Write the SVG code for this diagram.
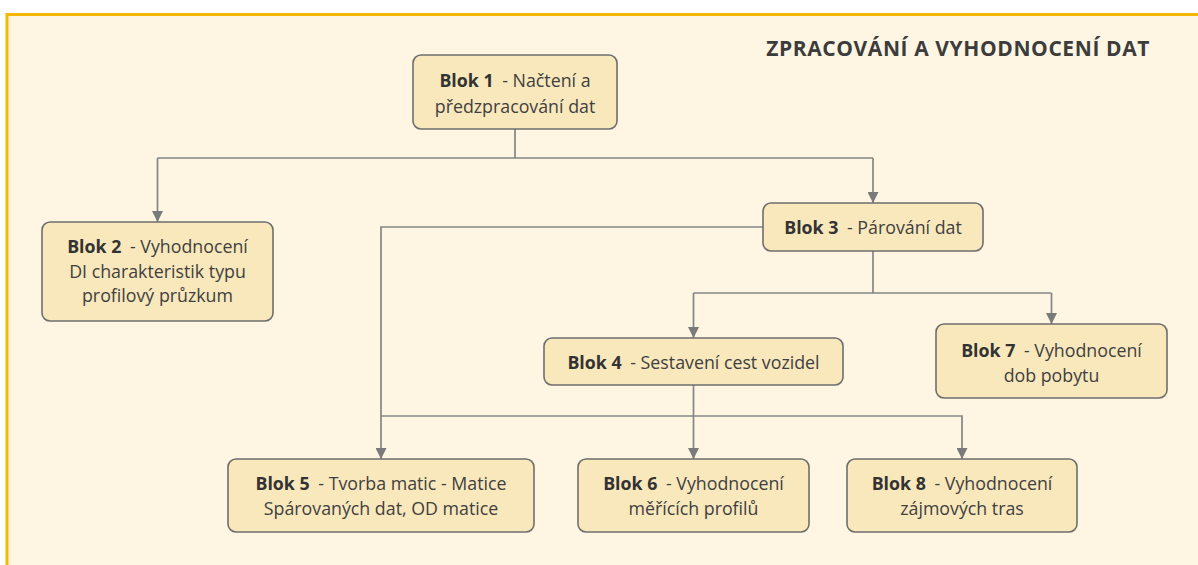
<svg xmlns="http://www.w3.org/2000/svg" width="1198" height="565" viewBox="0 0 1198 565">
<defs>
<style>
.node rect{fill:#F9E8BC;stroke:#6E6E6E;stroke-width:1.6}
.node text{font-family:"Open Sans","Noto Sans","Liberation Sans",sans-serif;font-size:17.8px;fill:#404040;text-anchor:middle}
.b{font-weight:bold;fill:#333333}
.conn path{fill:none;stroke:#858585;stroke-width:1.7}
.title{font-family:"Open Sans","Noto Sans","Liberation Sans",sans-serif;font-size:21px;letter-spacing:0.6px;font-weight:bold;fill:#3C3C3C;text-anchor:end}
</style>
<marker id="ah" viewBox="0 0 10 10" refX="10" refY="5" markerWidth="11" markerHeight="11" markerUnits="userSpaceOnUse" orient="auto">
<path d="M0,0 L10,5 L0,10 z" fill="#7A7A7A"/>
</marker>
</defs>
<rect x="0" y="0" width="1198" height="565" fill="#FFFFFF"/>
<rect id="frame" x="7" y="14.5" width="1200" height="560" fill="#FEF6E3" stroke="#F5B700" stroke-width="3"/>
<text class="title" x="1150" y="56">ZPRACOVÁNÍ A VYHODNOCENÍ DAT</text>

<g class="conn" id="connectors">
<path d="M515,129 V158"/>
<path d="M157.5,158 H873"/>
<path d="M157.5,158 V222" marker-end="url(#ah)"/>
<path d="M873,158 V203" marker-end="url(#ah)"/>
<path d="M763,227 H381 V459" marker-end="url(#ah)"/>
<path d="M873,251 V293"/>
<path d="M693.5,293 H1051.5"/>
<path d="M693.5,293 V338" marker-end="url(#ah)"/>
<path d="M1051.5,293 V324" marker-end="url(#ah)"/>
<path d="M693.5,385 V459" marker-end="url(#ah)"/>
<path d="M381,416 H962 V459" marker-end="url(#ah)"/>
</g>

<g class="node" id="blok1">
<rect x="413" y="55" width="204" height="74" rx="8"/>
<text x="515" y="87"><tspan class="b">Blok 1</tspan><tspan dx="4"> - Načtení a</tspan></text>
<text x="515" y="113">předzpracování dat</text>
</g>
<g class="node" id="blok2">
<rect x="42" y="222" width="231" height="99" rx="8"/>
<text x="157.5" y="253"><tspan class="b">Blok 2</tspan><tspan dx="4"> - Vyhodnocení</tspan></text>
<text x="157.5" y="277.5">DI charakteristik typu</text>
<text x="157.5" y="302">profilový průzkum</text>
</g>
<g class="node" id="blok3">
<rect x="763" y="203" width="220" height="48" rx="8"/>
<text x="873" y="234"><tspan class="b">Blok 3</tspan><tspan dx="4"> - Párování dat</tspan></text>
</g>
<g class="node" id="blok4">
<rect x="544" y="338" width="299" height="47" rx="8"/>
<text x="693.5" y="369"><tspan class="b">Blok 4</tspan><tspan dx="4"> - Sestavení cest vozidel</tspan></text>
</g>
<g class="node" id="blok7">
<rect x="936" y="324" width="231" height="74" rx="8"/>
<text x="1051.5" y="357"><tspan class="b">Blok 7</tspan><tspan dx="4"> - Vyhodnocení</tspan></text>
<text x="1051.5" y="382">dob pobytu</text>
</g>
<g class="node" id="blok5">
<rect x="228" y="459" width="306" height="73" rx="8"/>
<text x="381" y="490"><tspan class="b">Blok 5</tspan><tspan dx="4"> - Tvorba matic - Matice</tspan></text>
<text x="381" y="515">Spárovaných dat, OD matice</text>
</g>
<g class="node" id="blok6">
<rect x="578" y="459" width="231" height="73" rx="8"/>
<text x="693.5" y="490"><tspan class="b">Blok 6</tspan><tspan dx="4"> - Vyhodnocení</tspan></text>
<text x="693.5" y="515">měřících profilů</text>
</g>
<g class="node" id="blok8">
<rect x="847" y="459" width="230" height="73" rx="8"/>
<text x="962" y="490"><tspan class="b">Blok 8</tspan><tspan dx="4"> - Vyhodnocení</tspan></text>
<text x="962" y="515">zájmových tras</text>
</g>
</svg>
